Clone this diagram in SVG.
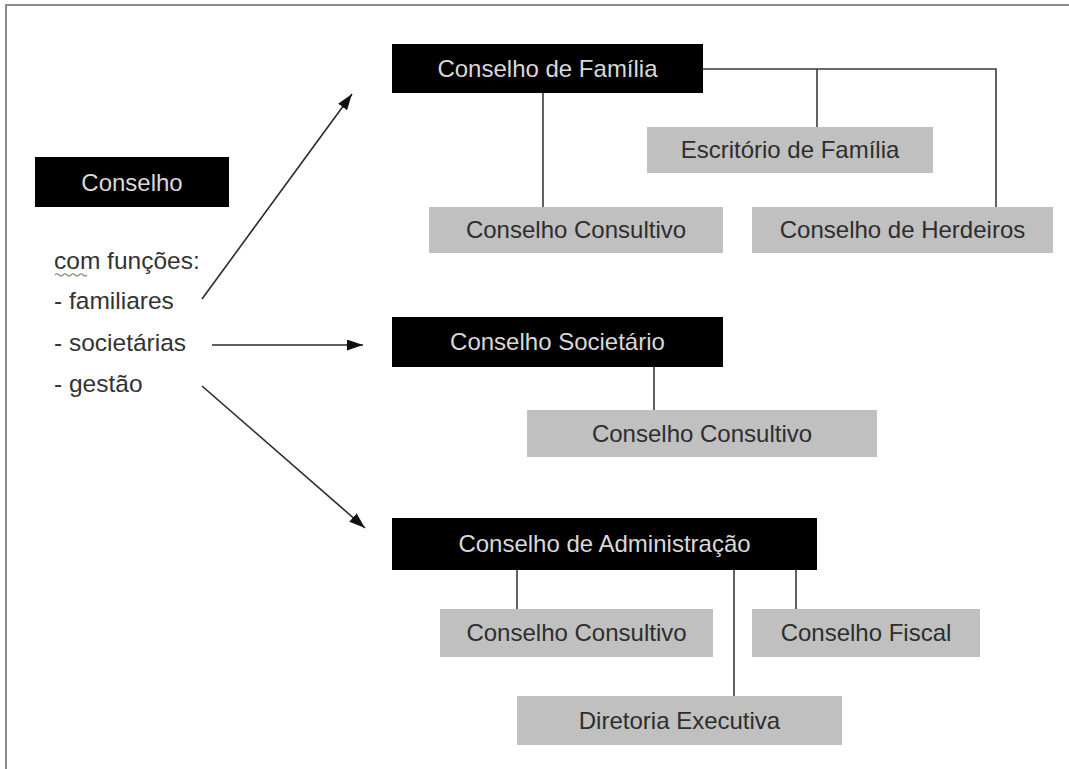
<svg xmlns="http://www.w3.org/2000/svg" width="1069" height="769" viewBox="0 0 1069 769">
<defs>
<style>
.blk{fill:#000}
.gry{fill:#c0c0c0}
.tl{font-family:"Liberation Sans",Arial,sans-serif;font-size:24px;fill:#d8d8d8;text-anchor:middle}
.td{font-family:"Liberation Sans",Arial,sans-serif;font-size:24px;fill:#2e2e2e;text-anchor:middle}
.tx{font-family:"Liberation Sans",Arial,sans-serif;font-size:24.5px;fill:#333}
.ln{stroke:#3a3a3a;stroke-width:1.6;fill:none}
.ar{stroke:#2a2a2a;stroke-width:1.6;fill:none;marker-end:url(#ah)}
</style>
<marker id="ah" markerUnits="userSpaceOnUse" markerWidth="17" markerHeight="12" refX="16" refY="5.5" orient="auto">
<path d="M0,0 L16,5.5 L0,11 Z" fill="#111"/>
</marker>
</defs>
<rect x="0" y="0" width="1069" height="769" fill="#fff"/>
<g id="frame">
<line x1="5" y1="5" x2="1069" y2="5" stroke="#8c8c8c" stroke-width="2"/>
<line x1="6" y1="5" x2="6" y2="769" stroke="#8c8c8c" stroke-width="2"/>
</g>
<g id="connectors">
<line class="ar" x1="202" y1="299" x2="352" y2="94"/>
<line class="ar" x1="212" y1="345" x2="363" y2="345"/>
<line class="ar" x1="202" y1="386" x2="365" y2="528"/>
<path class="ln" d="M543,93 V207"/>
<path class="ln" d="M703,69 H996 V207"/>
<path class="ln" d="M817,69 V127"/>
<path class="ln" d="M654,367 V410"/>
<path class="ln" d="M517,570 V609"/>
<path class="ln" d="M734,570 V696"/>
<path class="ln" d="M796,570 V609"/>
</g>
<g id="conselho">
<rect class="blk" x="35" y="157" width="194" height="50"/>
<text class="tl" x="132" y="191">Conselho</text>
</g>
<g id="funcoes">
<text class="tx" x="54" y="269">com funções:</text>
<path d="M55,275 q2,-2 4,0 t4,0 t4,0 t4,0 t4,0 t4,0 t4,0 t4,0" fill="none" stroke="#7f9a72" stroke-width="1.2"/>
<text class="tx" x="54" y="309">- familiares</text>
<text class="tx" x="54" y="351">- societárias</text>
<text class="tx" x="54" y="392">- gestão</text>
</g>
<g id="conselho-familia">
<rect class="blk" x="392" y="44" width="311" height="49"/>
<text class="tl" x="547.5" y="77">Conselho de Família</text>
</g>
<g id="escritorio-familia">
<rect class="gry" x="647" y="127" width="286" height="46"/>
<text class="td" x="790" y="158">Escritório de Família</text>
</g>
<g id="consultivo-familia">
<rect class="gry" x="429" y="207" width="294" height="46"/>
<text class="td" x="576" y="238">Conselho Consultivo</text>
</g>
<g id="conselho-herdeiros">
<rect class="gry" x="752" y="207" width="301" height="46"/>
<text class="td" x="902.5" y="238">Conselho de Herdeiros</text>
</g>
<g id="conselho-societario">
<rect class="blk" x="392" y="317" width="331" height="50"/>
<text class="tl" x="557.5" y="350">Conselho Societário</text>
</g>
<g id="consultivo-societario">
<rect class="gry" x="527" y="410" width="350" height="47"/>
<text class="td" x="702" y="442">Conselho Consultivo</text>
</g>
<g id="conselho-administracao">
<rect class="blk" x="392" y="518" width="425" height="52"/>
<text class="tl" x="604.5" y="552">Conselho de Administração</text>
</g>
<g id="consultivo-administracao">
<rect class="gry" x="440" y="609" width="273" height="48"/>
<text class="td" x="576.5" y="641">Conselho Consultivo</text>
</g>
<g id="conselho-fiscal">
<rect class="gry" x="752" y="609" width="228" height="48"/>
<text class="td" x="866" y="641">Conselho Fiscal</text>
</g>
<g id="diretoria-executiva">
<rect class="gry" x="517" y="696" width="325" height="49"/>
<text class="td" x="679.5" y="729">Diretoria Executiva</text>
</g>
</svg>
